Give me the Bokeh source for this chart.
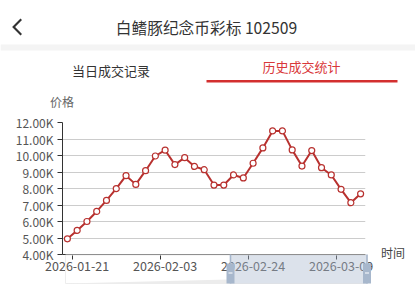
from bokeh.plotting import figure
from bokeh.layouts import column
from bokeh.models import (Range1d, FixedTicker, LinearAxis, Grid, ColumnDataSource)
from bokeh.core.properties import value
from bokeh.embed import file_html
from bokeh.resources import INLINE

# ---------------- data ----------------
dates = ["2026-01-20", "2026-01-21", "2026-01-22", "2026-01-23", "2026-01-26",
         "2026-01-27", "2026-01-28", "2026-01-29", "2026-01-30", "2026-02-02",
         "2026-02-03", "2026-02-04", "2026-02-05", "2026-02-06", "2026-02-09",
         "2026-02-10", "2026-02-11", "2026-02-12", "2026-02-13", "2026-02-24",
         "2026-02-25", "2026-02-26", "2026-02-27", "2026-03-02", "2026-03-03",
         "2026-03-04", "2026-03-05", "2026-03-06", "2026-03-09", "2026-03-10",
         "2026-03-11"]
prices = [4950, 5460, 6000, 6610, 7280, 7990, 8780, 8250, 9080, 9970,
          10320, 9450, 9870, 9340, 9140, 8210, 8210, 8820, 8640, 9530,
          10460, 11490, 11490, 10340, 9360, 10300, 9260, 8820, 7950, 7140,
          7680]
y_ticks = [4000, 5000, 6000, 7000, 8000, 9000, 10000, 11000, 12000]
y_tick_labels = ["4.00K", "5.00K", "6.00K", "7.00K", "8.00K", "9.00K",
                 "10.00K", "11.00K", "12.00K"]
x_label_idx = [1, 10, 19, 28]

title_text = "白鳍豚纪念币彩标 102509"
tab1_text = "当日成交记录"
tab2_text = "历史成交统计"
y_name = "价格"
x_name = "时间"

# ---------------- layout constants ----------------
FONT = "Noto Sans CJK SC"
W, H = 415, 287
FL, FR, FT, FB = 62, 365, 122, 254
RED = "#b8312f"

# ---------------- chart ----------------
p = figure(width=W, height=H, output_backend="svg", toolbar_location=None,
           x_range=Range1d(-0.5, len(dates) - 0.5),
           y_range=Range1d(y_ticks[0], y_ticks[-1]),
           x_axis_location=None, y_axis_location=None,
           min_border_left=FL, min_border_right=W - FR,
           min_border_top=FT, min_border_bottom=H - FB)
p.outline_line_color = None
p.background_fill_color = "white"
p.border_fill_color = "white"
for r in list(p.center):
    if isinstance(r, Grid):
        r.visible = False

p.add_layout(Grid(dimension=1, ticker=FixedTicker(ticks=y_ticks[1:]),
                  grid_line_color="#cccccc", grid_line_width=1))

yaxis = LinearAxis(ticker=FixedTicker(ticks=y_ticks),
                   major_label_overrides={t: l for t, l in zip(y_ticks, y_tick_labels)},
                   axis_line_color="#333333", major_tick_line_color="#333333",
                   major_tick_out=5, major_tick_in=0, minor_tick_line_color=None,
                   major_label_standoff=4, major_label_text_font_size="12px",
                   major_label_text_color="#555555", major_label_text_font=FONT)
p.add_layout(yaxis, "left")

boundary_ticks = [i - 0.5 for i in x_label_idx]
xaxis_ticks = LinearAxis(ticker=FixedTicker(ticks=boundary_ticks),
                         major_label_overrides={t: "" for t in boundary_ticks},
                         axis_line_color="#333333", major_tick_line_color="#333333",
                         major_tick_out=5, major_tick_in=0, minor_tick_line_color=None,
                         major_label_text_font_size="1px", major_label_standoff=0)
p.add_layout(xaxis_ticks, "below")

xaxis_labels = LinearAxis(ticker=FixedTicker(ticks=x_label_idx),
                          major_label_overrides={i: dates[i] for i in x_label_idx},
                          axis_line_color=None, major_tick_line_color=None,
                          major_tick_out=0, major_tick_in=0, minor_tick_line_color=None,
                          major_label_standoff=1, major_label_text_font_size="12.5px",
                          major_label_text_color="#555555", major_label_text_font=FONT)
p.add_layout(xaxis_labels, "below")

src = ColumnDataSource(dict(i=list(range(len(dates))), price=prices, date=dates))
p.line("i", "price", source=src, line_color=RED, line_width=2)
p.scatter("i", "price", source=src, size=6, fill_color="white",
          line_color=RED, line_width=1.2)

# ---------------- overlay: header, axis names, data-zoom slider ----------------
o = figure(width=W, height=H, output_backend="svg", toolbar_location=None,
           x_range=Range1d(0, W), y_range=Range1d(H, 0),
           x_axis_location=None, y_axis_location=None,
           min_border=0, min_border_left=0, min_border_right=0,
           min_border_top=0, min_border_bottom=0)
o.outline_line_color = None
o.background_fill_alpha = 0
o.border_fill_alpha = 0
for r in list(o.center):
    if isinstance(r, Grid):
        r.visible = False
for fig in (p, o):
    if "frame_align" in fig.properties():
        fig.frame_align = False
o.styles = {"position": "absolute", "left": "0px", "top": "0px"}
o.stylesheets = [":host { position: absolute !important; left: 0px !important; top: 0px !important; }"]

# header separator + back chevron
o.quad(left=[0], right=[W], top=[44], bottom=[50], fill_color="#f4f4f4", line_color=None)
o.patch(x=[21.5, 20, 11.6, 20, 21.5, 14.6], y=[19.6, 18.1, 26.5, 34.9, 33.4, 26.5],
        fill_color="#333333", line_color=None)
o.text(x=[206], y=[27], text=[title_text], text_align="center", text_baseline="middle",
       text_font=value(FONT), text_font_size=value("15.7px"), text_color="#333333")
o.text(x=[110.5], y=[69.5], text=[tab1_text], text_align="center", text_baseline="middle",
       text_font=value(FONT), text_font_size=value("13px"), text_color="#333333")
o.text(x=[301], y=[65.5], text=[tab2_text], text_align="center", text_baseline="middle",
       text_font=value(FONT), text_font_size=value("13px"), text_color="#d9383a")
o.quad(left=[206], right=[397], top=[79.5], bottom=[82], fill_color="#d32f2f", line_color=None)

o.text(x=[61.5], y=[100.5], text=[y_name], text_align="center", text_baseline="middle",
       text_font=value(FONT), text_font_size=value("12px"), text_color="#666666")
o.text(x=[380.5], y=[252], text=[x_name], text_align="left", text_baseline="middle",
       text_font=value(FONT), text_font_size=value("12px"), text_color="#444444")

# slider
o.quad(left=[65], right=[367], top=[254.5], bottom=[283], fill_color=None,
       line_color="#ededed", line_width=1)
o.patch(x=[65, 228, 228], y=[283, 279, 283], fill_color="#ececec", line_color=None)
o.quad(left=[230], right=[366.5], top=[254.5], bottom=[283], fill_color="#a7b7cc",
       fill_alpha=0.4, line_color=None)
for hx in (230, 366.5):
    o.quad(left=[hx - 0.8], right=[hx + 0.8], top=[254], bottom=[283],
           fill_color="#a7b7cc", line_color=None)
    o.quad(left=[hx - 4], right=[hx + 4], top=[263], bottom=[283],
           fill_color="#a7b7cc", line_color=None)
    o.quad(left=[hx - 2], right=[hx + 2], top=[272], bottom=[273],
           fill_color="white", line_color=None)

layout = column(p, o)
open("out.html", "w").write(file_html(layout, INLINE))
